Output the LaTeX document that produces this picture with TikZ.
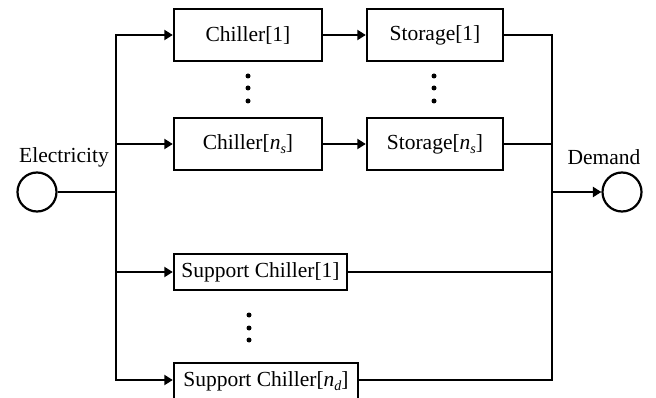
\documentclass[tikz,border=0pt]{standalone}
\usepackage{fontspec}
\setmainfont{Liberation Serif}
\usetikzlibrary{arrows.meta}
\newcommand{\subit}[1]{\raisebox{-0.45ex}{\fontsize{14}{14}\selectfont\itshape #1}}
\begin{document}
\begin{tikzpicture}[x=1pt,y=-1pt,
  every node/.style={font=\fontsize{21.5}{25}\selectfont},
  blk/.style={draw,line width=2.4pt,inner sep=0pt,minimum height=52pt},
  term/.style={draw,circle,line width=2.2pt,minimum size=39pt,inner sep=0pt},
  wire/.style={line width=2.4pt},
  flow/.style={line width=2.4pt,-{Triangle[length=8.5pt,width=10pt]}},
  dot/.style={circle,fill,inner sep=0pt,minimum size=5pt}]
\useasboundingbox (0,0) rectangle (656,398);
\node[term] (el) at (37,192) {};
\node[term] (dm) at (622,192) {};
\node (ellab) at (64,157) {Electricity};
\node (dmlab) at (604,157) {Demand};
\node[blk,minimum width=148pt] (c1) at (248,35) {Chiller[1]};
\node[blk,minimum width=148pt] (cn) at (248,144) {Chiller[{\itshape n}\subit{s}]};
\node[blk,minimum width=136pt] (s1) at (435,35) {Storage[1]};
\node[blk,minimum width=136pt] (sn) at (435,144) {Storage[{\itshape n}\subit{s}]};
\node[blk,minimum width=173pt,minimum height=36pt] (d1) at (260.5,272) {Support Chiller[1]};
\node[blk,minimum width=184pt,minimum height=36pt] (dn) at (266,381) {Support Chiller[{\itshape n}\subit{d}]};
\foreach \y [count=\i] in {76,88,101}{
  \node[dot] (ca\i) at (248,\y) {};
  \node[dot] (sa\i) at (434,\y) {};
}
\foreach \y [count=\i] in {315,328,340}{
  \node[dot] (da\i) at (249,\y) {};
}
\coordinate (lt) at (116,35);
\coordinate (lm) at (116,192);
\coordinate (lb) at (116,380);
\coordinate (rt) at (552,35);
\coordinate (rm) at (552,192);
\coordinate (rb) at (552,380);
\draw[wire,line cap=rect] (lt) -- (lb);
\draw[wire,line cap=rect] (rt) -- (rb);
\draw[wire] (el.east) -- (lm);
\draw[flow] (lt) -- (c1.west);
\draw[flow] (lt |- cn.west) -- (cn.west);
\draw[flow] (lt |- d1.west) -- (d1.west);
\draw[flow] (lb) -- (lb -| dn.west);
\draw[flow] (c1.east) -- (s1.west);
\draw[flow] (cn.east) -- (sn.west);
\draw[wire] (s1.east) -- (rt);
\draw[wire] (sn.east) -- (rt |- sn.east);
\draw[wire] (d1.east) -- (rt |- d1.east);
\draw[wire] (rb -| dn.east) -- (rb);
\draw[flow] (rm) -- (dm.west);
\end{tikzpicture}
\end{document}
